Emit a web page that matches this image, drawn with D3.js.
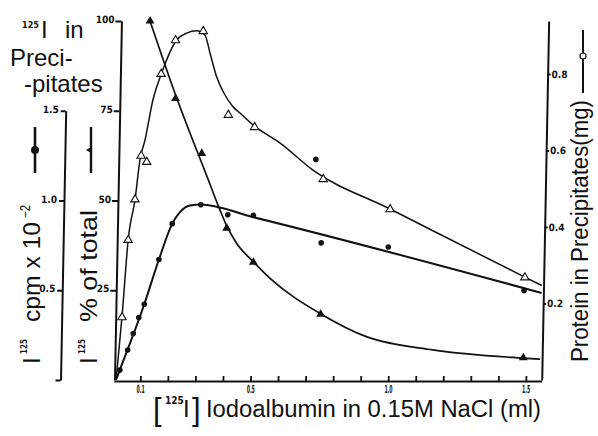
<!DOCTYPE html>
<html><head><meta charset="utf-8">
<script src="https://cdn.jsdelivr.net/npm/d3@7"></script>
<style>html,body{margin:0;padding:0;background:#fff;} svg{display:block;}</style>
</head><body>
<svg id="chart" width="598" height="436"></svg>
<script>
// ---------- data ----------
// Protein in precipitates (mg), open triangles
const protX  = [0.029,0.046,0.068,0.087,0.108,0.154,0.204,0.304,0.401,0.497,0.750,0.995,1.489];
const protMg = [0.164,0.366,0.472,0.586,0.570,0.800,0.888,0.912,0.693,0.661,0.525,0.446,0.268];
const protFitX  = [0.012,0.029,0.046,0.068,0.083,0.100,0.126,0.156,0.208,0.244,0.280,0.310,0.330,0.356,0.381,0.418,0.443,0.491,0.590,0.712,0.995,1.489,1.551];
const protFitMg = [0,0.165,0.366,0.471,0.575,0.627,0.732,0.803,0.889,0.907,0.913,0.902,0.855,0.792,0.753,0.714,0.698,0.667,0.620,0.549,0.447,0.269,0.247];

// 125I % of total, filled triangles
const pctX   = [0.110,0.208,0.307,0.403,0.502,0.750,1.489];
const pctVal = [100.0,78.4,63.1,42.3,32.8,18.3,6.2];
const pctFitX   = [0.110,0.201,0.333,0.377,0.403,0.440,0.502,0.564,0.751,0.920,1.160,1.488,1.550];
const pctFitVal = [100.0,80.8,55.7,47.4,42.9,38.1,32.9,28.3,18.4,12.0,8.4,6.1,5.8];

// 125I cpm x 10^-2, filled circles
const cpmX   = [0.025,0.052,0.071,0.090,0.109,0.159,0.205,0.307,0.406,0.499,0.747,0.991,1.487];
const cpmVal = [0.056,0.167,0.259,0.348,0.422,0.671,0.871,0.976,0.921,0.917,0.764,0.741,0.498];
const cpmStrayX = [0.722];
const cpmStrayVal = [1.229];
const cpmFitX   = [0.012,0.025,0.109,0.159,0.205,0.232,0.268,0.307,0.499,1.551];
const cpmFitVal = [0,0.056,0.422,0.671,0.871,0.935,0.972,0.978,0.907,0.485];

// tick labels
const xTicks = [0.1,0.2,0.3,0.4,0.5,0.6,0.7,0.8,0.9,1.0,1.1,1.2,1.3,1.4,1.5];
const xLabelled = [0.1,0.5,1.0,1.5];
const pctTicks = [25,50,75,100];
const cpmTicks = [0,0.5,1.0,1.5];
const mgTicks = [0.2,0.4,0.6,0.8];

// ---------- drawing ----------
const NARROW = "'Liberation Sans Narrow','DejaVu Sans Condensed',sans-serif";
const SANS = "'Liberation Sans',Arial,Helvetica,sans-serif";
const INK = "#111";

const svg = d3.select("#chart");
svg.append("rect").attr("width",598).attr("height",436).attr("fill","#fff");

const x = d3.scaleLinear().domain([0.0044,1.5575]).range([114,541.7]);
const yPct = d3.scaleLinear().domain([0,100]).range([380,21]);
const yCpm = d3.scaleLinear().domain([0,1.5]).range([yPct(0), yPct(75)]);
const yMg = d3.scaleLinear().domain([0,0.9386]).range([380,21]);

// the scanned figure is slightly sheared
const g = svg.append("g").attr("transform","translate(0,380) skewX(-1.11) translate(0,-380)");

function styleAxis(sel, len){
  sel.select(".domain").attr("stroke",INK).attr("stroke-width",2);
  sel.selectAll(".tick line").attr("stroke",INK).attr("stroke-width",1.8);
  const t = sel.selectAll(".tick text").attr("font-family",NARROW).attr("font-weight","bold")
    .attr("font-size",10).attr("fill",INK);
  if(len) t.filter(function(){return this.textContent.length>0;})
    .attr("textLength",len).attr("lengthAdjust","spacingAndGlyphs");
  return sel;
}

// x axis
const xAxis = d3.axisBottom(x).tickValues(xTicks).tickSizeInner(-5).tickSizeOuter(0).tickPadding(4)
  .tickFormat(d => xLabelled.some(t=>Math.abs(t-d)<1e-9) ? d3.format(".1f")(d) : "");
const gx = g.append("g").attr("transform","translate(0,381)").call(xAxis);
styleAxis(gx, 8);
gx.selectAll(".tick text").attr("font-size",11);

// % of total axis
const pctAxis = d3.axisLeft(yPct).tickValues(pctTicks).tickSizeInner(6).tickSizeOuter(0).tickPadding(1);
const gp = g.append("g").attr("transform","translate(114.5,0)").call(pctAxis);
styleAxis(gp);
gp.selectAll(".tick text").attr("dy","0.15em");

// cpm axis
const cpmAxis = d3.axisLeft(yCpm).tickValues(cpmTicks).tickSizeInner(5).tickSizeOuter(0).tickPadding(2)
  .tickFormat(d => d===0 ? "" : d3.format(".1f")(d));
const gc = g.append("g").attr("transform","translate(60.5,0)").call(cpmAxis);
styleAxis(gc);
gc.selectAll(".tick text").attr("dy","0.15em");

// protein axis (right)
const mgAxis = d3.axisRight(yMg).tickValues(mgTicks).tickSizeInner(3).tickSizeOuter(0).tickPadding(1)
  .tickFormat(d3.format(".1f"));
const gm = g.append("g").attr("transform","translate(541.7,0)").call(mgAxis);
styleAxis(gm);

// curves
const mk = (xs, ys, ys_scale) => d3.line().curve(d3.curveMonotoneX)(xs.map((v,i)=>[x(v), ys_scale(ys[i])]));
g.append("path").attr("d", mk(protFitX, protFitMg, yMg)).attr("fill","none").attr("stroke",INK).attr("stroke-width",1.5);
g.append("path").attr("d", mk(pctFitX, pctFitVal, yPct)).attr("fill","none").attr("stroke",INK).attr("stroke-width",1.7);
g.append("path").attr("d", mk(cpmFitX, cpmFitVal, yCpm)).attr("fill","none").attr("stroke",INK).attr("stroke-width",2);

// markers
const tri = d3.symbol().type(d3.symbolTriangle);
g.selectAll(".ptri").data(protX).join("path")
  .attr("transform",(d,i)=>`translate(${x(d)},${yMg(protMg[i])})`)
  .attr("d", tri.size(30)()).attr("fill","#fff").attr("stroke",INK).attr("stroke-width",1.1);
g.selectAll(".ftri").data(pctX).join("path")
  .attr("transform",(d,i)=>`translate(${x(d)},${yPct(pctVal[i])})`)
  .attr("d", tri.size(34)()).attr("fill",INK);
g.selectAll(".fcirc").data(cpmX).join("circle")
  .attr("cx",d=>x(d)).attr("cy",(d,i)=>yCpm(cpmVal[i])).attr("r",2.8).attr("fill",INK);
g.selectAll(".scirc").data(cpmStrayX).join("circle")
  .attr("cx",d=>x(d)).attr("cy",(d,i)=>yCpm(cpmStrayVal[i])).attr("r",2.8).attr("fill",INK);

// ---------- texts ----------
function txt(xp, yp, s, size, opts={}){
  const t = svg.append("text").attr("x",xp).attr("y",yp).text(s)
    .attr("font-family",opts.family||SANS).attr("font-size",size).attr("fill",INK);
  if(opts.weight) t.attr("font-weight",opts.weight);
  if(opts.len) t.attr("textLength",opts.len).attr("lengthAdjust","spacingAndGlyphs");
  return t;
}
function vtext(bx, by, s, size, opts={}){
  const t = svg.append("text").attr("transform",`translate(${bx},${by}) rotate(-90)`).text(s)
    .attr("font-family",opts.family||SANS).attr("font-size",size).attr("fill",INK);
  if(opts.weight) t.attr("font-weight",opts.weight);
  if(opts.len) t.attr("textLength",opts.len).attr("lengthAdjust","spacingAndGlyphs");
  return t;
}

// top-left title
txt(22, 28, "125", 9, {family:NARROW, weight:"bold"});
txt(41, 38, "I", 24);
txt(65, 38, "in", 24);
txt(10, 66, "Preci-", 24);
txt(24, 92, "-pitates", 24);

// left rotated labels
vtext(27, 354, "125", 8, {family:NARROW, weight:"bold"});
vtext(40, 364, "I", 24);
vtext(40, 322, "cpm x 10", 24, {len:100});
vtext(30, 218, "\u22122", 14, {len:13});

vtext(85, 354, "125", 8, {family:NARROW, weight:"bold"});
vtext(97, 364, "I", 24);
vtext(97, 322, "% of total", 24, {len:112});

// right rotated label
vtext(588, 362, "Protein in Precipitates(mg)", 23, {len:262});

// x-axis title
txt(153, 420, "[", 31);
txt(165, 404, "125", 10, {family:NARROW, weight:"bold"});
txt(183, 417, "I", 24);
txt(192, 420, "]", 31);
txt(206, 417, "Iodoalbumin in 0.15M NaCl (ml)", 23.5, {len:335});

// legend keys
svg.append("line").attr("x1",35).attr("x2",35).attr("y1",127).attr("y2",173).attr("stroke",INK).attr("stroke-width",2.6);
svg.append("circle").attr("cx",35).attr("cy",150).attr("r",4).attr("fill",INK);
svg.append("line").attr("x1",91).attr("x2",91).attr("y1",127).attr("y2",173).attr("stroke",INK).attr("stroke-width",2.4);
svg.append("path").attr("transform","translate(90,150) rotate(-90)").attr("d", d3.symbol().type(d3.symbolTriangle).size(22)()).attr("fill",INK);
svg.append("line").attr("x1",583).attr("x2",583).attr("y1",30).attr("y2",93).attr("stroke",INK).attr("stroke-width",2);
svg.append("circle").attr("cx",583).attr("cy",56).attr("r",3).attr("fill","#fff").attr("stroke",INK).attr("stroke-width",1.2);
</script>
</body></html>
